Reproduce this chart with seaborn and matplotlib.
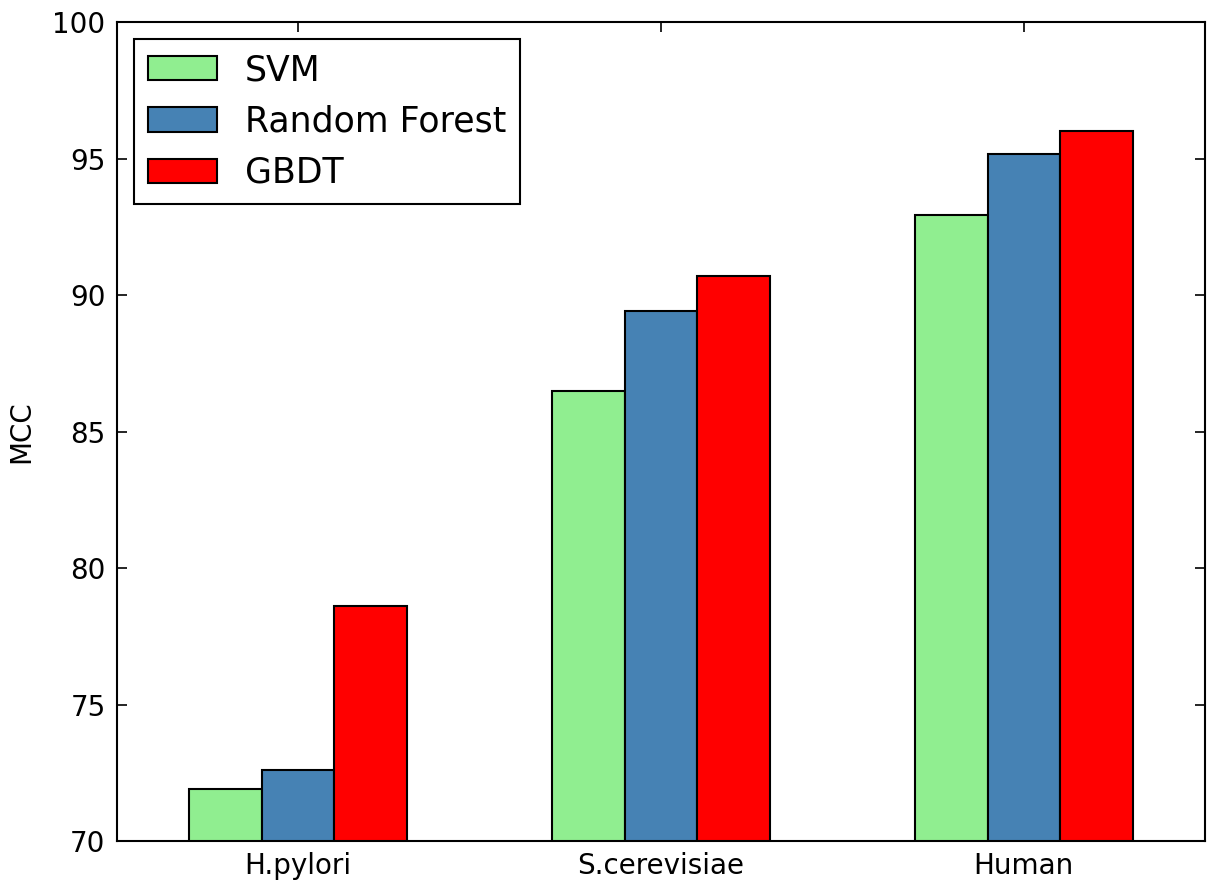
import matplotlib
matplotlib.use("Agg")
import matplotlib.pyplot as plt
import seaborn as sns
import pandas as pd

# values
datasets = ["H.pylori", "S.cerevisiae", "Human"]
methods = ["SVM", "Random Forest", "GBDT"]
svm_mcc = [71.9, 86.5, 92.95]
rf_mcc = [72.6, 89.4, 95.15]
gbdt_mcc = [78.6, 90.7, 96.0]
colors = ["lightgreen", "steelblue", "red"]

rows = []
for method, vals in zip(methods, [svm_mcc, rf_mcc, gbdt_mcc]):
    for ds, v in zip(datasets, vals):
        rows.append({"dataset": ds, "method": method, "MCC": v})
df = pd.DataFrame(rows)

sns.set_style("ticks")
plt.rcParams['font.family'] = ['DejaVu Sans']
plt.rcParams['xtick.direction'] = 'in'
plt.rcParams['ytick.direction'] = 'in'
plt.rcParams['xtick.top'] = True
plt.rcParams['ytick.right'] = True
plt.rcParams['axes.linewidth'] = 1.5
plt.rcParams['axes.edgecolor'] = 'black'
plt.rcParams['text.color'] = 'black'
plt.rcParams['axes.labelcolor'] = 'black'
plt.rcParams['xtick.color'] = 'black'
plt.rcParams['ytick.color'] = 'black'

fig = plt.figure(figsize=(12.15, 8.8), dpi=100)
ax = fig.add_axes([0.096, 0.044, 0.896, 0.931])

sns.barplot(data=df, x="dataset", y="MCC", hue="method", order=datasets,
            hue_order=methods, palette=colors, saturation=1, width=0.6,
            edgecolor="black", linewidth=1.5, ax=ax)

ax.set_ylim(70, 100)
ax.set_xlim(-0.5, 2.5)
ax.set_xlabel("")
ax.set_ylabel("MCC", fontsize=20, labelpad=12)
ax.tick_params(axis='both', labelsize=20, length=7, width=1.2)
ax.tick_params(axis='x', pad=8)
ax.tick_params(axis='y', pad=8)

leg = ax.legend(loc="upper left", fontsize=25, fancybox=False, framealpha=1,
                edgecolor="black", borderaxespad=0.5)
leg.get_frame().set_linewidth(1.5)

fig.savefig("out.png", dpi=100)
